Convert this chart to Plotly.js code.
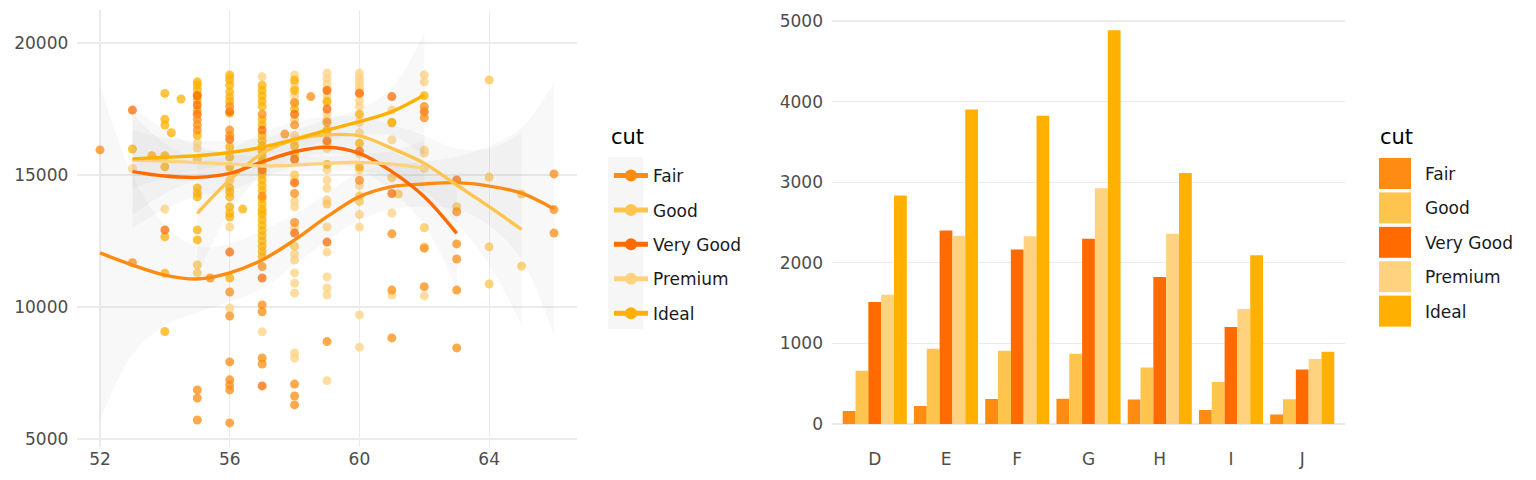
<!DOCTYPE html>
<html>
<head>
<meta charset="utf-8">
<script src="https://cdn.plot.ly/plotly-3.0.1.min.js"></script>
<style>
  html, body { margin: 0; padding: 0; background: #fff; }
  #chart { width: 1536px; height: 480px; }
</style>
</head>
<body>
<div id="chart"></div>
<script>
// ---- categories / colours ----
const cuts = ['Fair', 'Good', 'Very Good', 'Premium', 'Ideal'];
const cutColors = ['#FF8C12', '#FFC44D', '#FF6B00', '#FFD280', '#FFB000'];
const colorLevels = ['D', 'E', 'F', 'G', 'H', 'I', 'J'];

// ---- right panel: counts per colour, one array per cut ----
const countFair     = [163, 224, 312, 314, 303, 175, 119];
const countGood     = [662, 933, 909, 871, 702, 522, 307];
const countVeryGood = [1513, 2400, 2164, 2299, 1824, 1204, 678];
const countPremium  = [1603, 2337, 2331, 2924, 2360, 1428, 808];
const countIdeal    = [2834, 3903, 3826, 4884, 3115, 2093, 896];

// ---- left panel: points, [table, price] ----
const fairPoints = [
  [52, 15950], [53, 11680], [55, 17100], [55, 16900], [55, 16700], [55, 6860], [55, 6550], [55, 5720],
  [55.4, 11100], [56, 17600], [56, 16700], [56, 16500], [56, 10570], [56, 9660], [56, 7920], [56, 7240],
  [56, 7050], [56, 6860], [56, 5610], [57, 17300], [57, 14200], [57, 11530], [57, 10080], [57, 9820],
  [57, 8070], [57, 7840], [57.7, 16550], [58, 17750], [58, 16900], [58, 14300], [58, 13200], [58, 7080],
  [58, 6630], [58, 6290], [58.5, 17970], [59, 17000], [59, 8690], [60, 14800], [61, 12770], [61, 10640],
  [61, 8830], [62, 17590], [62, 17170], [62, 10770], [62, 12230], [63, 13610], [63, 12390], [63, 11820],
  [63, 10640], [63, 8450], [66, 15040], [66, 13690], [66, 12800]
];
const goodPoints = [
  [55, 15600], [55, 11590], [55, 11290], [56, 14800], [57, 15100], [57, 13600], [58, 15000], [58, 12300],
  [59, 16200], [59, 13900], [60, 14200], [60, 14000], [61, 16970], [61, 14900], [61.2, 14280], [62, 13000],
  [63, 13800], [64, 18600], [64, 14920], [64, 12280], [64, 10870], [65, 14280], [65, 11550]
];
const veryGoodPoints = [
  [53, 17460], [54, 12920], [55, 18000], [55, 17650], [55, 17300], [56, 17400], [56, 16350], [56, 12080],
  [57, 16700], [57, 15200], [57, 11100], [57, 7010], [58, 17300], [58, 15600], [58, 14700], [58, 12800],
  [59, 18200], [59, 17500], [59, 16300], [59, 12460], [60, 18100], [60, 15900], [61, 17970], [61, 14300],
  [62, 17400], [63, 14810]
];
const premiumPoints = [
  [53, 15250], [54, 13710], [55, 16210], [55, 16020], [56, 18700], [56, 13030], [56, 9960], [57, 18720],
  [57, 16000], [57, 9060],
  [58, 18790], [58, 18500], [58, 18300], [58, 18000], [58, 17700], [58, 17100], [58, 16500], [58, 16300],
  [58, 15570], [58, 14810], [58, 14000], [58, 13790], [58, 13000], [58, 12000], [58, 11780], [58, 11290],
  [58, 10900], [58, 10530], [58, 8260], [58, 8070],
  [59, 18860], [59, 18650], [59, 18450], [59, 18250], [59, 18000], [59, 17750], [59, 17300], [59, 17100],
  [59, 16600], [59, 16000], [59, 15200], [59, 14800], [59, 14500], [59, 14050], [59, 13030], [59, 12080],
  [59, 11140], [59, 10720], [59, 10450], [59, 7210],
  [60, 18860], [60, 18700], [60, 18550], [60, 18400], [60, 18250], [60, 18050], [60, 17800], [60, 17600],
  [60, 17000], [60, 16600], [60, 15800], [60, 15190], [60, 14600], [60, 13500], [60, 13030], [60, 9700],
  [60, 8480],
  [61, 17460], [61, 16330], [61, 13560], [61, 10450],
  [62, 18790], [62, 18530], [62, 15950], [62, 15830], [62, 15250], [62, 12280], [62, 10420]
];
const idealPoints = [
  [53, 15985], [53.6, 15730],
  [54, 18090], [54, 17110], [54, 16890], [54, 15730], [54, 15310], [54, 12660], [54, 11280], [54, 9070],
  [54.2, 16600], [54.5, 17880],
  [55, 18530], [55, 18410], [55, 18220], [55, 18030], [55, 17840], [55, 17460], [55, 16500], [55, 14510],
  [55, 14320], [55, 14170], [55, 12920], [55, 12540],
  [56, 18790], [56, 18600], [56, 18400], [56, 18150], [56, 17950], [56, 17780], [56, 17350], [56, 16060],
  [56, 15680], [56, 15300], [56, 14510], [56, 14350], [56, 14170], [56, 13790], [56, 13560], [56, 13410],
  [56, 11100], [56.4, 13710],
  [57, 18400], [57, 18200], [57, 18000], [57, 17800], [57, 17600], [57, 17100], [57, 16900], [57, 16500],
  [57, 16300], [57, 16100], [57, 15900], [57, 15700], [57, 15500], [57, 15300], [57, 15000], [57, 14800],
  [57, 14600], [57, 14400], [57, 14100], [57, 13900], [57, 13700], [57, 13500], [57, 13300], [57, 13100],
  [57, 12900], [57, 12700], [57, 12500], [57, 12300], [57, 12100], [57, 11900],
  [58, 18600], [58, 18200], [58, 17500], [58, 16100], [58, 15800],
  [59, 17800], [59, 16700], [59, 15400],
  [60, 17300], [60, 16200], [60, 15300],
  [61, 17000], [62, 18000]
];

// ---- loess fits: x, fit, lower, upper ----
const fairSmoothX  = [52, 53, 54, 55, 56, 57, 58, 59, 60, 61, 62, 63, 64, 65, 66];
const fairSmooth   = [12050, 11590, 11210, 11060, 11290, 11780, 12540, 13420, 14180, 14560, 14660, 14710, 14580, 14310, 13710];
const fairLower    = [5700, 8200, 9300, 9800, 10200, 10700, 11600, 12500, 13300, 13700, 13800, 13700, 13100, 11800, 8900];
const fairUpper    = [18400, 15000, 13100, 12300, 12400, 12900, 13500, 14300, 15100, 15400, 15500, 15700, 16100, 16800, 18500];

const goodSmoothX  = [55, 56, 57, 58, 59, 60, 61, 62, 63, 64, 65];
const goodSmooth   = [13550, 14810, 15820, 16330, 16520, 16480, 16010, 15440, 14620, 13800, 12940];
const goodLower    = [11200, 13600, 15000, 15600, 15800, 15700, 15100, 14400, 13200, 11600, 9300];
const goodUpper    = [15900, 16000, 16600, 17000, 17200, 17200, 16900, 16500, 16000, 16000, 16600];

const vgSmoothX    = [53, 54, 55, 56, 57, 58, 59, 60, 61, 62, 63];
const vgSmooth     = [15130, 14960, 14910, 15060, 15500, 15880, 16050, 15820, 15130, 14180, 12790];
const vgLower      = [13000, 13700, 14200, 14400, 14900, 15300, 15500, 15200, 14400, 13100, 10700];
const vgUpper      = [17300, 16200, 15600, 15700, 16100, 16500, 16600, 16400, 15900, 15300, 14900];

const premSmoothX  = [53, 54, 55, 56, 57, 58, 59, 60, 61, 62];
const premSmooth   = [15570, 15530, 15470, 15420, 15340, 15380, 15440, 15480, 15410, 15250];
const premLower    = [13500, 14300, 14800, 15000, 15000, 15100, 15150, 15150, 14900, 14200];
const premUpper    = [17600, 16700, 16100, 15800, 15700, 15700, 15700, 15800, 15900, 16300];

const idealSmoothX = [53, 54, 55, 56, 57, 58, 59, 60, 61, 62];
const idealSmooth  = [15610, 15670, 15730, 15850, 16050, 16350, 16700, 17020, 17400, 18030];
const idealLower   = [14500, 14900, 15200, 15400, 15700, 16000, 16300, 16500, 16500, 15700];
const idealUpper   = [16700, 16400, 16300, 16300, 16400, 16700, 17100, 17500, 18300, 20400];

const xTicks = [52, 56, 60, 64];
const yTicksLeft = [5000, 10000, 15000, 20000];
const yTicksRight = [0, 1000, 2000, 3000, 4000, 5000];

// ---- assemble traces ----
const pointSets = [fairPoints, goodPoints, veryGoodPoints, premiumPoints, idealPoints];
const smoothSets = [
  { x: fairSmoothX, y: fairSmooth, lo: fairLower, hi: fairUpper },
  { x: goodSmoothX, y: goodSmooth, lo: goodLower, hi: goodUpper },
  { x: vgSmoothX, y: vgSmooth, lo: vgLower, hi: vgUpper },
  { x: premSmoothX, y: premSmooth, lo: premLower, hi: premUpper },
  { x: idealSmoothX, y: idealSmooth, lo: idealLower, hi: idealUpper },
];
const counts = [countFair, countGood, countVeryGood, countPremium, countIdeal];

const traces = [];

// points first (ggplot draws them under the smooths)
[3, 1, 4, 2, 0].forEach(i => {
  traces.push({
    type: 'scatter', mode: 'markers',
    x: pointSets[i].map(p => p[0]), y: pointSets[i].map(p => p[1]),
    marker: { color: cutColors[i], size: 9, opacity: 0.75, line: { width: 0 } },
    showlegend: false, hoverinfo: 'skip', xaxis: 'x', yaxis: 'y',
  });
});

// confidence ribbons: lower edge, then upper edge filled down to it
smoothSets.forEach(s => {
  traces.push({
    type: 'scatter', mode: 'lines', x: s.x, y: s.lo,
    line: { width: 0, shape: 'spline', smoothing: 1 },
    showlegend: false, hoverinfo: 'skip', xaxis: 'x', yaxis: 'y',
  });
  traces.push({
    type: 'scatter', mode: 'lines', x: s.x, y: s.hi,
    fill: 'tonexty', fillcolor: 'rgba(153,153,153,0.07)',
    line: { width: 0, shape: 'spline', smoothing: 1 },
    showlegend: false, hoverinfo: 'skip', xaxis: 'x', yaxis: 'y',
  });
});

// fitted lines, these carry the left legend
smoothSets.forEach((s, i) => {
  traces.push({
    type: 'scatter', mode: 'lines+markers',
    x: s.x, y: s.y, name: cuts[i], legendgroup: 'l' + i,
    line: { color: cutColors[i], width: 3.4, shape: 'spline', smoothing: 1 },
    marker: { color: cutColors[i], size: 0.1 },
    xaxis: 'x', yaxis: 'y', legend: 'legend',
  });
});

// bars (legend for these is drawn by hand below, with ggplot-size keys)
counts.forEach((c, i) => {
  traces.push({
    type: 'bar', x: colorLevels, y: c, name: cuts[i],
    marker: { color: cutColors[i], line: { width: 0 } },
    xaxis: 'x2', yaxis: 'y2', showlegend: false,
  });
});

// ---- legend decorations (paper coordinates from pixels) ----
const W = 1536, H = 480;
const px = v => v / W;
const py = v => 1 - v / H;
const keyStep = 34.4;

const shapes = [
  // grey key background behind the left legend
  { type: 'rect', xref: 'paper', yref: 'paper', x0: px(608), x1: px(643), y0: py(329), y1: py(157),
    fillcolor: '#F6F6F6', line: { width: 0 }, layer: 'below' },
];
const annotations = [
  { text: 'cut', xref: 'paper', yref: 'paper', x: px(609), y: py(137), xanchor: 'left', yanchor: 'middle',
    showarrow: false, font: { size: 21, color: '#000' } },
  { text: 'cut', xref: 'paper', yref: 'paper', x: px(1378), y: py(137), xanchor: 'left', yanchor: 'middle',
    showarrow: false, font: { size: 21, color: '#000' } },
];
cuts.forEach((c, i) => {
  const top = 158 + i * keyStep;
  shapes.push({ type: 'rect', xref: 'paper', yref: 'paper', x0: px(1379), x1: px(1411),
    y0: py(top + 31), y1: py(top), fillcolor: cutColors[i], line: { width: 0 } });
  annotations.push({ text: c, xref: 'paper', yref: 'paper', x: px(1423), y: py(top + 16),
    xanchor: 'left', yanchor: 'middle', showarrow: false, font: { size: 17, color: '#1A1A1A' } });
});

const gridCol = '#EBEBEB';
const tickFont = { family: 'DejaVu Sans', size: 17, color: '#4D4D4D' };

const layout = {
  width: W, height: H,
  paper_bgcolor: '#fff', plot_bgcolor: '#fff',
  font: { family: 'DejaVu Sans', color: '#1A1A1A' },
  margin: { l: 0, r: 0, t: 0, b: 0 },
  barmode: 'group', bargap: 0.1, bargroupgap: 0,
  xaxis: {
    domain: [px(77.3), px(576.7)], range: [51.3, 66.7],
    tickvals: xTicks, ticktext: xTicks.map(String), tickfont: tickFont,
    showgrid: true, gridcolor: gridCol, gridwidth: 1.2, zeroline: false, showline: false,
    ticks: '', ticklabelstandoff: 0,
  },
  yaxis: {
    domain: [py(447), py(10)], range: [4697, 21250],
    tickvals: yTicksLeft, ticktext: yTicksLeft.map(String), tickfont: tickFont,
    showgrid: true, gridcolor: gridCol, gridwidth: 1.2, zeroline: false, showline: false,
    ticks: '', ticklabelstandoff: 8,
  },
  xaxis2: {
    domain: [px(832), px(1345)], range: [-0.6, 6.6], type: 'category',
    tickfont: tickFont, showgrid: false, zeroline: false, showline: false,
    ticks: '', ticklabelstandoff: 3, anchor: 'y2',
  },
  yaxis2: {
    domain: [py(443.7), py(10.7)], range: [-244, 5128],
    tickvals: yTicksRight, ticktext: yTicksRight.map(String), tickfont: tickFont,
    showgrid: true, gridcolor: gridCol, gridwidth: 1.2, zeroline: false, showline: false,
    ticks: '', ticklabelstandoff: 8, anchor: 'x2',
  },
  legend: {
    x: px(609), xanchor: 'left', y: py(158), yanchor: 'top',
    font: { size: 17, color: '#1A1A1A' }, itemwidth: 34,
    tracegroupgap: 9.3, itemsizing: 'constant', bgcolor: 'rgba(0,0,0,0)',
  },
  shapes, annotations,
};

Plotly.newPlot('chart', traces, layout, { displayModeBar: false, staticPlot: true });
</script>
</body>
</html>
